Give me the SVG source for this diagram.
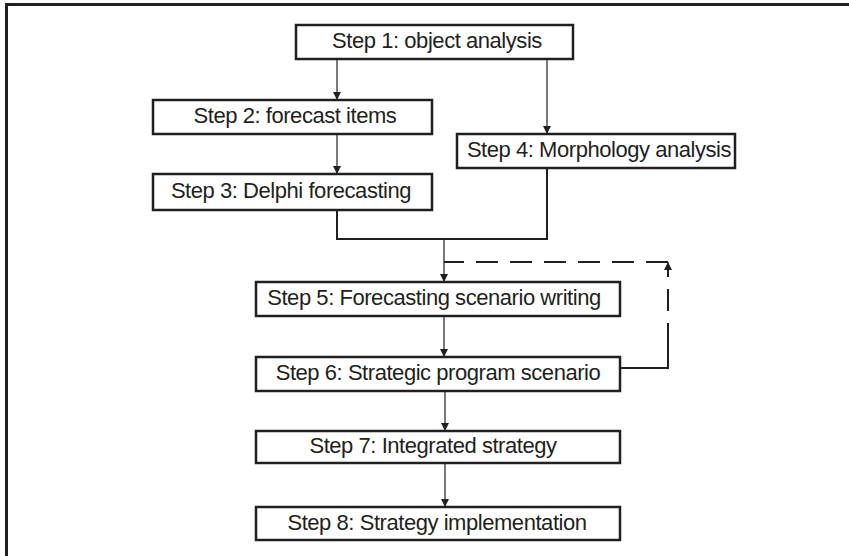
<svg xmlns="http://www.w3.org/2000/svg" width="849" height="556" viewBox="0 0 849 556">
<style>
.box{fill:#fff;stroke:#231f20;stroke-width:2.5}
.lbl{font-family:"Liberation Sans",Arial,sans-serif;font-size:22px;letter-spacing:-0.45px;fill:#231f20;text-anchor:middle}
.thin{fill:none;stroke:#231f20;stroke-width:1.2}
.thick{fill:none;stroke:#231f20;stroke-width:2}
.dash{fill:none;stroke:#231f20;stroke-width:2;stroke-dasharray:22 12}
</style>
<defs>
<marker id="ah" viewBox="0 0 10 10" refX="10" refY="5" markerWidth="8" markerHeight="8" markerUnits="userSpaceOnUse" orient="auto">
<path d="M0,0 L10,5 L0,10 z" fill="#231f20"/>
</marker>
</defs>
<rect width="849" height="556" fill="#fff"/>
<path d="M6.5,556 V4.5 H849" fill="none" stroke="#231f20" stroke-width="3"/>
<g id="connectors">
<path class="thin" d="M337,59 V100" marker-end="url(#ah)"/>
<path class="thin" d="M337,134 V174" marker-end="url(#ah)"/>
<path class="thin" d="M547,59 V134" marker-end="url(#ah)"/>
<path class="thick" d="M337,210 V239 H547 V168"/>
<path class="thin" d="M444,239 V282" marker-end="url(#ah)"/>
<path class="thin" d="M444,316 V357" marker-end="url(#ah)"/>
<path class="thin" d="M445,391 V431" marker-end="url(#ah)"/>
<path class="thin" d="M445,463 V507" marker-end="url(#ah)"/>
<path class="thick" d="M620,368 H668 V345"/>
<path class="dash" d="M668,345 V266"/>
<path class="thin" d="M668,272 V262" marker-end="url(#ah)"/>
<path class="dash" d="M668,262 H444"/>
</g>
<g id="step1"><rect class="box" x="296" y="25" width="277" height="34"/><text class="lbl" x="437" y="48">Step 1: object analysis</text></g>
<g id="step2"><rect class="box" x="153" y="100" width="279" height="34"/><text class="lbl" x="295" y="123">Step 2: forecast items</text></g>
<g id="step3"><rect class="box" x="153" y="174" width="279" height="36"/><text class="lbl" x="291" y="198">Step 3: Delphi forecasting</text></g>
<g id="step4"><rect class="box" x="457" y="134" width="278" height="34"/><text class="lbl" x="599" y="157">Step 4: Morphology analysis</text></g>
<g id="step5"><rect class="box" x="256" y="282" width="364" height="34"/><text class="lbl" x="434" y="305">Step 5: Forecasting scenario writing</text></g>
<g id="step6"><rect class="box" x="256" y="357" width="364" height="34"/><text class="lbl" x="438" y="380">Step 6: Strategic program scenario</text></g>
<g id="step7"><rect class="box" x="256" y="431" width="364" height="32"/><text class="lbl" x="433" y="453">Step 7: Integrated strategy</text></g>
<g id="step8"><rect class="box" x="256" y="507" width="364" height="33"/><text class="lbl" x="437" y="530">Step 8: Strategy implementation</text></g>
</svg>
